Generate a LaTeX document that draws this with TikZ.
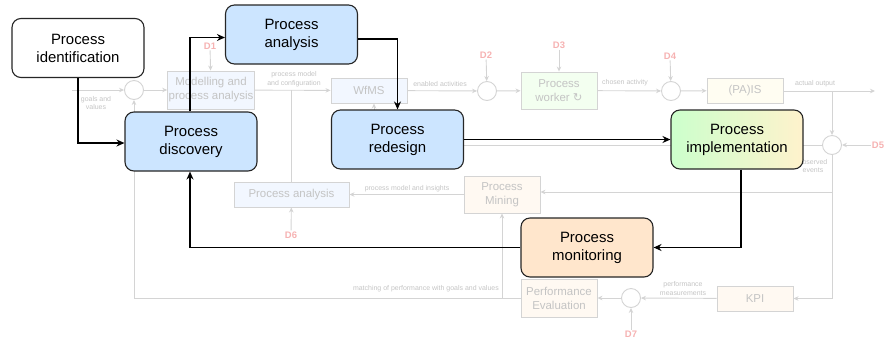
\documentclass[tikz,border=0pt]{standalone}
\usepackage{fontspec}
\setmainfont{Liberation Sans}
\newfontfamily\symfont{DejaVu Sans}
\usetikzlibrary{arrows.meta}
\pgfdeclarelayer{bg}
\pgfsetlayers{bg,main}
\definecolor{phaseblue}{RGB}{204,229,255}
\definecolor{phaseorange}{RGB}{255,230,204}
\definecolor{phasegreen}{RGB}{204,255,204}
\definecolor{phaseyellow}{RGB}{255,242,204}
\definecolor{ghostline}{RGB}{212,212,212}
\definecolor{ghosttext}{RGB}{196,196,196}
\definecolor{distred}{RGB}{246,178,178}
\definecolor{fblue}{RGB}{242,247,255}
\definecolor{fgreen}{RGB}{243,255,240}
\definecolor{fyellow}{RGB}{255,253,242}
\definecolor{forange}{RGB}{255,249,242}
\tikzset{phase/.style={draw=black!85, line width=1.1bp, rounded corners=9bp, minimum width=132bp, minimum height=59bp, align=center, font=\fontsize{15}{18}\selectfont, inner sep=2bp}}
\tikzset{flow/.style={line width=1.6bp, -{Stealth[length=8bp,width=7bp]}}}
\tikzset{ghost/.style={draw=ghostline, line width=0.9bp, minimum width=76bp, align=center, font=\fontsize{11.5}{14}\selectfont, text=ghosttext, inner sep=1bp}}
\tikzset{sumpt/.style={circle, draw=ghostline, fill=white, line width=0.9bp, minimum size=19bp, inner sep=0}}
\tikzset{dist/.style={text=distred, font=\fontsize{9.5}{11}\selectfont\bfseries, inner sep=1bp}}
\tikzset{gline/.style={draw=ghostline, line width=0.9bp}}
\tikzset{garrow/.style={gline, -{Stealth[length=5bp,width=4.5bp]}}}
\tikzset{tiny/.style={text=ghosttext, font=\fontsize{7}{9}\selectfont, align=center, inner sep=0}}
\begin{document}
\begin{tikzpicture}[x=1bp, y=-1bp]
    \useasboundingbox (0,0) rectangle (884,344);

    \begin{pgfonlayer}{bg}
        \coordinate (goals) at (72, 90);
        \node (c1) at (134, 90) [sumpt] {};
        \node (model) at (211, 90) [ghost, fill=fblue, minimum height=38bp] {Modelling and\\process analysis};
        \node (d1) at (210, 46) [dist] {D1};
        \node (wfms) at (369, 90.5) [ghost, fill=fblue, minimum height=25bp] {WfMS};
        \node (c2) at (487, 91) [sumpt] {};
        \node (d2) at (486, 55) [dist] {D2};
        \node (worker) at (559, 90.5) [ghost, fill=fgreen, minimum height=37bp] {Process\\worker {\symfont ↻}};
        \node (d3) at (559, 45) [dist] {D3};
        \node (c3) at (671, 91) [sumpt] {};
        \node (d4) at (670, 56) [dist] {D4};
        \node (pais) at (745, 90.5) [ghost, fill=fyellow, minimum height=25bp] {(PA)IS};
        \coordinate (out) at (875, 91);
        \coordinate (split) at (832, 91);
        \node (c4) at (832, 145) [sumpt] {};
        \node (d5) at (878, 145) [dist] {D5};
        \node (mining) at (502, 194.5) [ghost, fill=forange, minimum height=37bp] {Process\\Mining};
        \node (lpa) at (291.5, 194.5) [ghost, fill=fblue, minimum width=115bp, minimum height=25bp] {Process analysis};
        \node (d6) at (291, 235) [dist] {D6};
        \node (kpi) at (755, 298.5) [ghost, fill=forange, minimum height=25bp] {KPI};
        \node (c5) at (631, 298) [sumpt] {};
        \node (d7) at (631, 334) [dist] {D7};
        \node (perf) at (559, 298) [ghost, fill=forange, minimum height=38bp] {Performance\\Evaluation};

        \node at (96, 103) [tiny] {goals and\\values};
        \node at (294, 79.5) [tiny] {process model\\and configuration};
        \node at (440, 84) [tiny] {enabled activities};
        \node at (625, 83) [tiny] {chosen activity};
        \node at (815, 84) [tiny] {actual output};
        \node at (813, 166) [tiny] {observed\\events};
        \node at (407, 189) [tiny] {process model and insights};
        \node at (683, 288.5) [tiny] {performance\\measurements};
        \node at (499, 289) [tiny, anchor=east] {matching of performance with goals and values};

        \draw (goals) edge [garrow] (c1);
        \draw (c1) edge [garrow] (model);
        \draw (d1) edge [garrow] (model);
        \draw (model) edge [garrow] (wfms);
        \draw [gline] (lpa.north) -- (lpa.north |- model.east);
        \draw (wfms) edge [garrow] (c2);
        \draw (d2) edge [garrow] (c2);
        \draw (c2) edge [garrow] (worker);
        \draw (d3) edge [garrow] (worker);
        \draw (worker) edge [garrow] (c3);
        \draw (d4) edge [garrow] (c3);
        \draw (c3) edge [garrow] (pais);
        \draw (pais.east |- out) edge [garrow] (out);
        \draw (split) edge [garrow] (c4);
        \draw (d5) edge [garrow] (c4);
        \draw [gline] (c4.west) -- (400, 145);
        \draw [garrow] (c4.south) |- (kpi.east);
        \draw [garrow] (832, 192) -- (mining.east |- 0, 192);
        \draw (mining) edge [garrow] (lpa);
        \draw (d6) edge [garrow] (lpa);
        \draw (kpi) edge [garrow] (c5);
        \draw (d7) edge [garrow] (c5);
        \draw (c5) edge [garrow] (perf);
        \draw [garrow] (perf.west) -| (c1.south);
        \draw [garrow] (mining.south |- perf.west) -- (mining.south);
        \draw [garrow] (374, 120) -- (374, 103.5);
    \end{pgfonlayer}

    \node (ident) at (78, 48) [phase, fill=white] {Process\\identification};
    \node (anal) at (291.5, 34.5) [phase, fill=phaseblue] {Process\\analysis};
    \node (disc) at (191, 141.5) [phase, fill=phaseblue] {Process\\discovery};
    \node (redes) at (397.5, 139.5) [phase, fill=phaseblue] {Process\\redesign};
    \node (impl) at (737, 139.5) [phase, left color=phasegreen, right color=phaseyellow] {Process\\implementation};
    \node (mon) at (587, 247.5) [phase, fill=phaseorange] {Process\\monitoring};

    \draw [flow] (ident.south) |- ([yshift=-1.5bp]disc.west);
    \draw [flow] ([xshift=-1bp]disc.north) |- ([yshift=-3bp]anal.west);
    \draw [flow] ([yshift=-4.5bp]anal.east) -| (redes.north);
    \draw (redes) edge [flow] (impl);
    \draw [flow] ([xshift=4bp]impl.south) |- (mon.east);
    \draw [flow] (mon.west) -| ([xshift=-1bp]disc.south);
\end{tikzpicture}
\end{document}
